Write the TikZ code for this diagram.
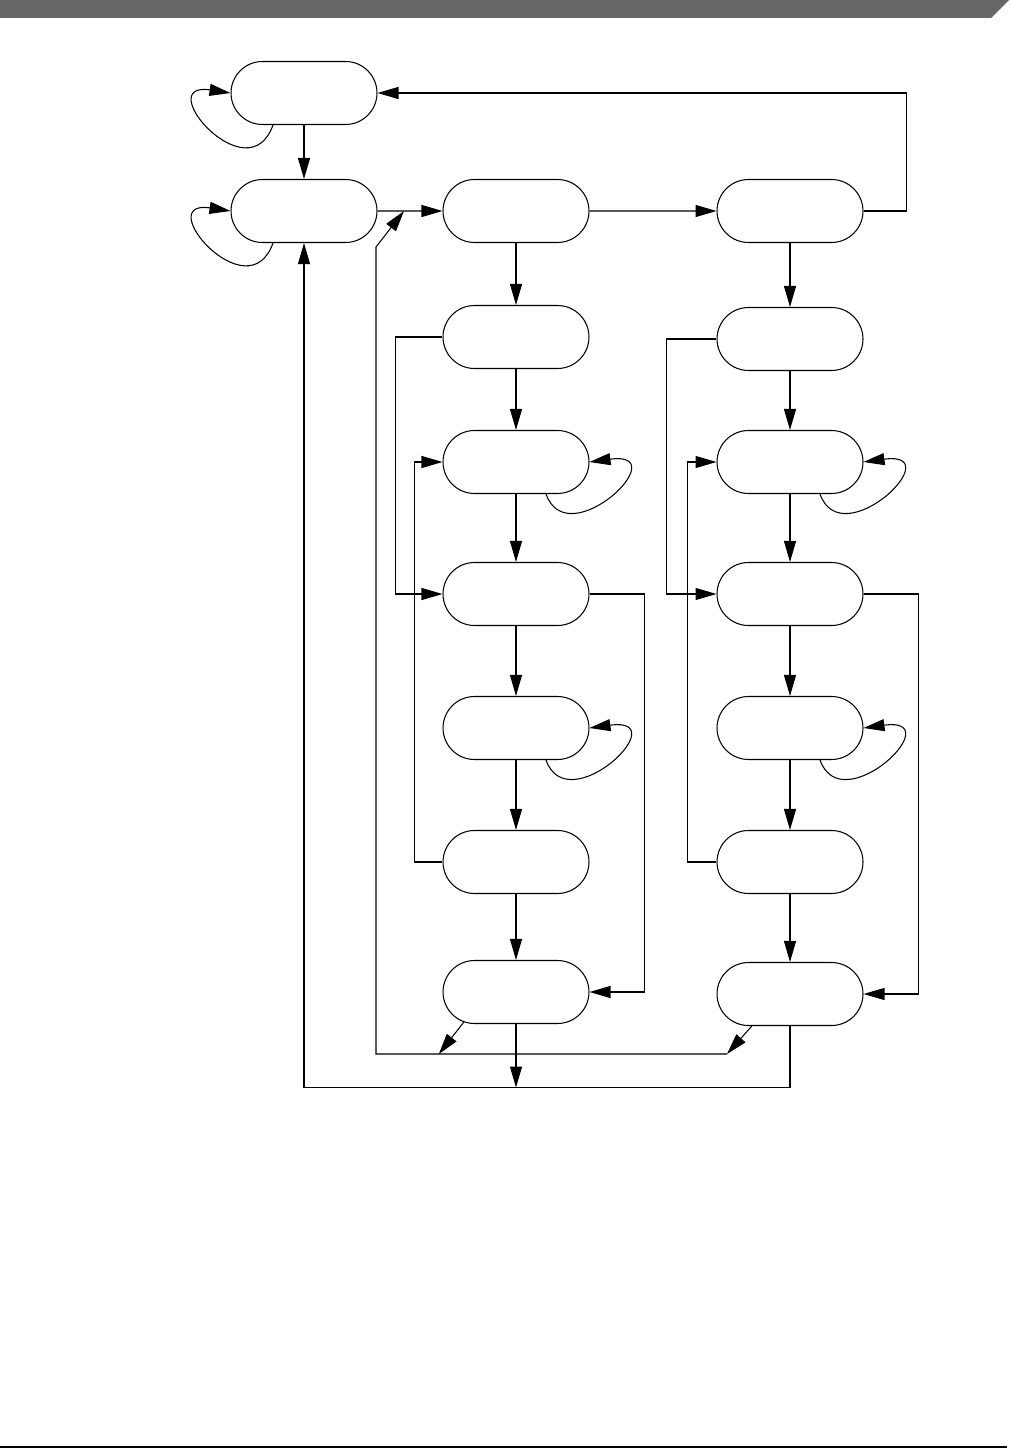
\documentclass[tikz,border=0pt]{standalone}
\usetikzlibrary{arrows.meta,shapes.misc}

\tikzset{
  mstate/.style={rounded rectangle, draw, minimum width=2.92cm, minimum height=1.26cm, inner sep=0pt},
}

\begin{document}
\begin{tikzpicture}[x=0.02cm, y=-0.02cm, line width=0.6pt, >={Triangle[length=0.42cm, width=0.24cm]}]
    \useasboundingbox (0,0) rectangle (1009,1449);

    % page header and footer rule
    \fill[black!60] (0,0) -- (1009,0) -- (991,18) -- (0,18) -- cycle;
    \draw[line width=1.2pt] (0,1447) -- (1007,1447);

    % states
    \node[mstate] (A) at (304,93)  {};
    \node[mstate] (B) at (304,211) {};
    \node[mstate] (C) at (516,211) {};
    \node[mstate] (D) at (790,211) {};

    \node[mstate] (E) at (516,337) {};
    \node[mstate] (F) at (516,462) {};
    \node[mstate] (G) at (516,594) {};
    \node[mstate] (H) at (516,728) {};
    \node[mstate] (I) at (516,862) {};
    \node[mstate] (J) at (516,992) {};

    \node[mstate] (K) at (790,339) {};
    \node[mstate] (L) at (790,462) {};
    \node[mstate] (M) at (790,594) {};
    \node[mstate] (N) at (790,728) {};
    \node[mstate] (O) at (790,862) {};
    \node[mstate] (P) at (790,994) {};

    \coordinate (ret)  at (727,1054);
    \coordinate (join) at (404,211);

    % main flow
    \draw[->] (A) -- (B);
    \draw[->] (B) -- (C);
    \draw[->] (C) -- (D);
    \draw[->] (D.east) -- ++(43,0) |- (A.east);

    \draw[->] (C) -- (E);
    \draw[->] (E) -- (F);
    \draw[->] (F) -- (G);
    \draw[->] (G) -- (H);
    \draw[->] (H) -- (I);
    \draw[->] (I) -- (J);

    \draw[->] (D) -- (K);
    \draw[->] (K) -- (L);
    \draw[->] (L) -- (M);
    \draw[->] (M) -- (N);
    \draw[->] (N) -- (O);
    \draw[->] (O) -- (P);

    % side paths, left column
    \draw[->] (E.west) -- ++(-47,0) |- (G.west);
    \draw[->] (I.west) -- ++(-28,0) |- (F.west);
    \draw[->] (G.east) -- ++(55,0) |- (J.east);

    % side paths, right column
    \draw[->] (K.west) -- ++(-50,0) |- (M.west);
    \draw[->] (O.west) -- ++(-29,0) |- (L.west);
    \draw[->] (M.east) -- ++(55,0) |- (P.east);

    % self loops
    \draw[->] ([xshift=-0.62cm]A.south) .. controls +(-25,70) and +(-80,-12) .. (A.west);
    \draw[->] ([xshift=-0.62cm]B.south) .. controls +(-25,70) and +(-80,-12) .. (B.west);
    \draw[->] ([xshift=0.6cm]F.south) .. controls +(22,62) and +(88,-12) .. (F.east);
    \draw[->] ([xshift=0.6cm]H.south) .. controls +(22,62) and +(88,-12) .. (H.east);
    \draw[->] ([xshift=0.6cm]L.south) .. controls +(22,62) and +(88,-12) .. (L.east);
    \draw[->] ([xshift=0.6cm]N.south) .. controls +(22,62) and +(88,-12) .. (N.east);

    % returns
    \draw[->] (P.south) -- ++(0,61.5) -| (B.south);
    \draw[->] (J.south) -- ++(0,63.5);
    \draw[->] (J.-150) -- ++(-25,32);
    \draw[->] (P.-140) -- (ret);
    \draw[->] (ret) -- ++(-351,0) -- ++(0,-807) -- (join);
\end{tikzpicture}
\end{document}
